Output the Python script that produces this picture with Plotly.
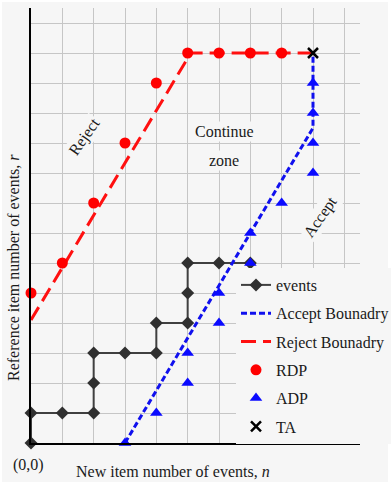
import plotly.graph_objects as go

# ---- data ----
events_n = [0, 0, 1, 2, 2, 2, 3, 4, 4, 5, 5, 5, 6, 7]
events_r = [0, 1, 1, 1, 2, 3, 3, 3, 4, 4, 5, 6, 6, 6]

accept_n = [3, 9, 9]
accept_r = [0, 10.5, 13]

reject_n = [0, 5.1, 9]
reject_r = [4.1, 13, 13]

rdp_n = [0, 1, 2, 3, 4, 5, 6, 7, 8]
rdp_r = [5, 6, 8, 10, 12, 13, 13, 13, 13]

adp_n = [3, 4, 5, 5, 6, 6, 7, 7, 8, 9, 9, 9, 9]
adp_r = [0, 1, 2, 3, 4, 5, 6, 7, 8, 9, 10, 11, 12]

ta_n = [9]
ta_r = [13]

BG = "#f6f6f6"
FONT = "Liberation Serif"
TXT = "#1a1a1a"
FS = 16

fig = go.Figure()
fig.add_trace(go.Scatter(x=events_n, y=events_r, mode="lines+markers", name="events",
                         line=dict(color="#404040", width=2),
                         marker=dict(symbol="diamond", size=10, color="#303030"),
                         cliponaxis=False, legendgroup="a"))
fig.add_trace(go.Scatter(x=accept_n, y=accept_r, mode="lines", name="Accept Bounadry",
                         line=dict(color="#1010ee", width=3, dash="6px,3px"),
                         cliponaxis=False, legendgroup="b"))
fig.add_trace(go.Scatter(x=reject_n, y=reject_r, mode="lines", name="Reject Bounadry",
                         line=dict(color="#ff1010", width=3, dash="15px,7px"),
                         cliponaxis=False, legendgroup="c"))
fig.add_trace(go.Scatter(x=rdp_n, y=rdp_r, mode="markers", name="RDP",
                         marker=dict(symbol="circle", size=11, color="#ff0000"),
                         cliponaxis=False, legendgroup="d"))
fig.add_trace(go.Scatter(x=adp_n, y=adp_r, mode="markers", name="ADP",
                         marker=dict(symbol="triangle-up", size=11, color="#0a0aff"),
                         cliponaxis=False, legendgroup="e"))
fig.add_trace(go.Scatter(x=ta_n, y=ta_r, mode="markers", name="TA",
                         marker=dict(symbol="x-thin", size=10, color="black",
                                     line=dict(color="black", width=2.5)),
                         cliponaxis=False, legendgroup="f"))

L, R, T, B = 31, 31, 8, 48
W, H = 391, 491
pw, ph = W - L - R, H - T - B

def px(x):
    return (x - L) / pw

def py(y):
    return (H - B - y) / ph

fig.update_layout(
    width=W, height=H,
    margin=dict(l=L, r=R, t=T, b=B, pad=0, autoexpand=False),
    paper_bgcolor="white",
    plot_bgcolor=BG,
    font=dict(family=FONT, size=FS, color=TXT),
    showlegend=True,
    legend=dict(x=px(236), y=py(268), xanchor="left", yanchor="top",
                bgcolor=BG, borderwidth=0, traceorder="grouped",
                tracegroupgap=4.5, font=dict(family=FONT, size=FS, color=TXT),
                itemwidth=30),
    xaxis=dict(range=[0, 10.5], dtick=1, tick0=0, showgrid=True,
               gridcolor="#c6c6c6", gridwidth=1, zeroline=False,
               showline=True, linecolor="black", linewidth=2,
               showticklabels=False, ticks=""),
    yaxis=dict(range=[0, 14.5], dtick=1, tick0=0, showgrid=True,
               gridcolor="#c6c6c6", gridwidth=1, zeroline=False,
               showline=True, linecolor="black", linewidth=2,
               showticklabels=False, ticks=""),
    shapes=[dict(type="rect", xref="paper", yref="paper",
                 x0=px(2), x1=px(388), y0=py(482), y1=py(2),
                 fillcolor=BG, line=dict(width=0), layer="below")],
)

C = dict(xanchor="center", yanchor="middle", showarrow=False)
ann = [
    dict(text="(0,0)", x=px(28), y=py(465), xref="paper", yref="paper", **C),
    dict(text="New item number of events, <i>n</i>", x=px(173), y=py(471),
         xref="paper", yref="paper", **C),
    dict(text="Reference item number of events, <i>r</i>", x=px(13), y=py(268),
         xref="paper", yref="paper", textangle=-90, **C),
    dict(text="Reject", x=1.7, y=10.2, xref="x", yref="y",
         textangle=-55, bgcolor=BG, **C),
    dict(text="Accept", x=9.23, y=7.55, xref="x", yref="y",
         textangle=-55, bgcolor=BG, **C),
    dict(text="Continue", x=6.17, y=10.37, xref="x", yref="y", bgcolor=BG, **C),
    dict(text="zone", x=6.17, y=9.43, xref="x", yref="y", bgcolor=BG, **C),
]
fig.update_layout(annotations=ann)

fig.write_html("out.html")
